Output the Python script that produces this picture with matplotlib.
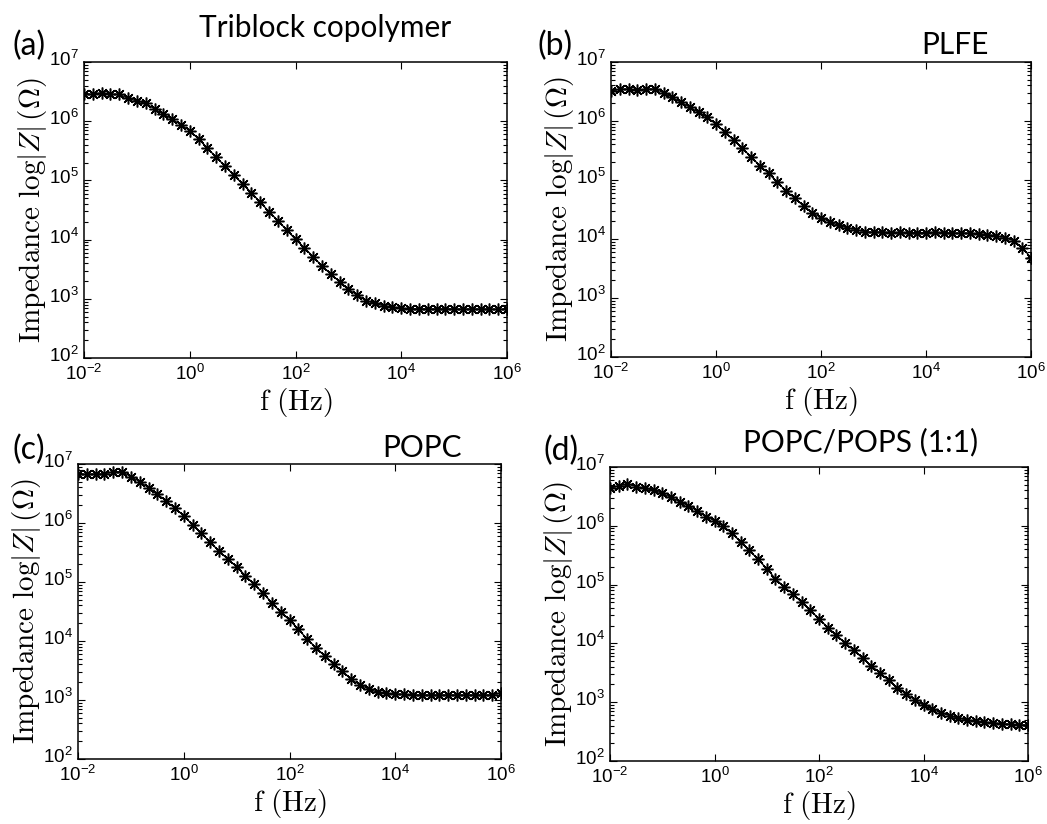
import numpy as np
import matplotlib
matplotlib.use("Agg")
import matplotlib.pyplot as plt
import matplotlib.transforms as mtransforms
from matplotlib.ticker import FixedLocator, LogLocator, NullLocator

plt.rcParams['font.family'] = ['Liberation Sans', 'DejaVu Sans']
plt.rcParams['mathtext.fontset'] = 'cm'

# frequency sweep: 6 points per decade, 10^-2 .. 10^6 Hz
freq = 10 ** (np.arange(49) / 6.0 - 2)
xticks = [1e-2, 1e0, 1e2, 1e4, 1e6]

# log10 |Z|
logz_a = [6.454, 6.454, 6.482, 6.454, 6.454, 6.386, 6.341, 6.302, 6.206, 6.122,
          6.032, 5.941, 5.840, 5.699, 5.547, 5.390, 5.243, 5.086, 4.939, 4.793,
          4.630, 4.472, 4.320, 4.162, 4.004, 3.864, 3.712, 3.554, 3.419, 3.289,
          3.160, 3.064, 2.968, 2.923, 2.884, 2.861, 2.839, 2.832, 2.830, 2.830,
          2.828, 2.830, 2.828, 2.826, 2.828, 2.826, 2.826, 2.824, 2.824]
logz_b = [6.508, 6.537, 6.542, 6.520, 6.542, 6.542, 6.480, 6.401, 6.316, 6.237,
          6.147, 6.062, 5.944, 5.808, 5.678, 5.537, 5.395, 5.243, 5.113, 4.960,
          4.820, 4.690, 4.560, 4.445, 4.360, 4.290, 4.230, 4.190, 4.160, 4.125,
          4.115, 4.120, 4.110, 4.112, 4.108, 4.110, 4.108, 4.115, 4.108, 4.102,
          4.100, 4.100, 4.090, 4.075, 4.052, 4.025, 3.972, 3.853, 3.684]
logz_c = [6.825, 6.825, 6.831, 6.831, 6.870, 6.870, 6.785, 6.701, 6.599, 6.492,
          6.373, 6.249, 6.124, 5.966, 5.825, 5.672, 5.525, 5.384, 5.260, 5.107,
          4.960, 4.810, 4.650, 4.486, 4.356, 4.198, 4.034, 3.887, 3.746, 3.605,
          3.492, 3.350, 3.254, 3.186, 3.130, 3.113, 3.102, 3.096, 3.085, 3.085,
          3.085, 3.085, 3.085, 3.085, 3.085, 3.085, 3.085, 3.085, 3.124]
logz_d = [6.637, 6.683, 6.711, 6.666, 6.637, 6.609, 6.552, 6.484, 6.410, 6.337,
          6.257, 6.155, 6.087, 5.997, 5.870, 5.730, 5.580, 5.430, 5.270, 5.100,
          4.960, 4.840, 4.700, 4.560, 4.420, 4.270, 4.140, 4.010, 3.880, 3.750,
          3.620, 3.500, 3.370, 3.250, 3.140, 3.040, 2.950, 2.880, 2.820, 2.770,
          2.730, 2.700, 2.680, 2.660, 2.650, 2.635, 2.625, 2.615, 2.612]

letters = ["(a)", "(b)", "(c)", "(d)"]
titles = ["Triblock copolymer", "PLFE", "POPC", "POPC/POPS (1:1)"]
series = [logz_a, logz_b, logz_c, logz_d]

# axes boxes in pixels: left, top, right, bottom
W, H = 1047, 824
boxes = [(84, 62, 507, 358), (611, 62, 1031, 357),
         (78, 464, 501, 759), (610, 467, 1028, 761)]
letter_pos = [(29, 46), (555, 46), (29, 450), (561, 451)]
title_pos = [(325, 28), (955, 45), (422, 448), (861, 442)]

fig = plt.figure(figsize=(W / 100, H / 100), dpi=100)
star = (8, 2, 0)
# y tick labels sit a touch higher, like the MATLAB original
lift = mtransforms.ScaledTranslation(0, 4 / 100, fig.dpi_scale_trans)

for k in range(4):
    l, t, r, b = boxes[k]
    ax = fig.add_axes([l / W, 1 - b / H, (r - l) / W, (b - t) / H])
    ax.loglog(freq, 10 ** np.array(series[k]), color='k', lw=0.9,
              marker=star, markersize=8.5, markeredgewidth=1.1)
    ax.set_xlim(1e-2, 1e6)
    ax.set_ylim(1e2, 1e7)
    ax.xaxis.set_major_locator(FixedLocator(xticks))
    ax.xaxis.set_minor_locator(NullLocator())
    ax.yaxis.set_major_locator(LogLocator(base=10.0, numticks=10))
    ax.yaxis.set_minor_locator(LogLocator(base=10.0, subs=np.arange(2, 10), numticks=20))
    ax.tick_params(which='both', direction='in', top=True, right=True,
                   labelsize=13.5, width=0.8, pad=4)
    ax.tick_params(which='major', length=5)
    ax.tick_params(which='minor', length=3)
    for lab in ax.get_yticklabels():
        lab.set_transform(lab.get_transform() + lift)
    for s in ax.spines.values():
        s.set_linewidth(1.1)
    ax.set_xlabel(r'$\mathrm{f\ (Hz)}$', fontsize=21, labelpad=2)
    ax.set_ylabel(r'$\mathrm{Impedance}\ \log|Z|\,(\Omega)$', fontsize=21, labelpad=0)

    fig.text(letter_pos[k][0] / W, 1 - letter_pos[k][1] / H, letters[k],
             family='Lato', fontsize=23, ha='center', va='center')
    fig.text(title_pos[k][0] / W, 1 - title_pos[k][1] / H, titles[k],
             family='Lato', fontsize=21.5, ha='center', va='center')

fig.savefig("out.png", dpi=100)
